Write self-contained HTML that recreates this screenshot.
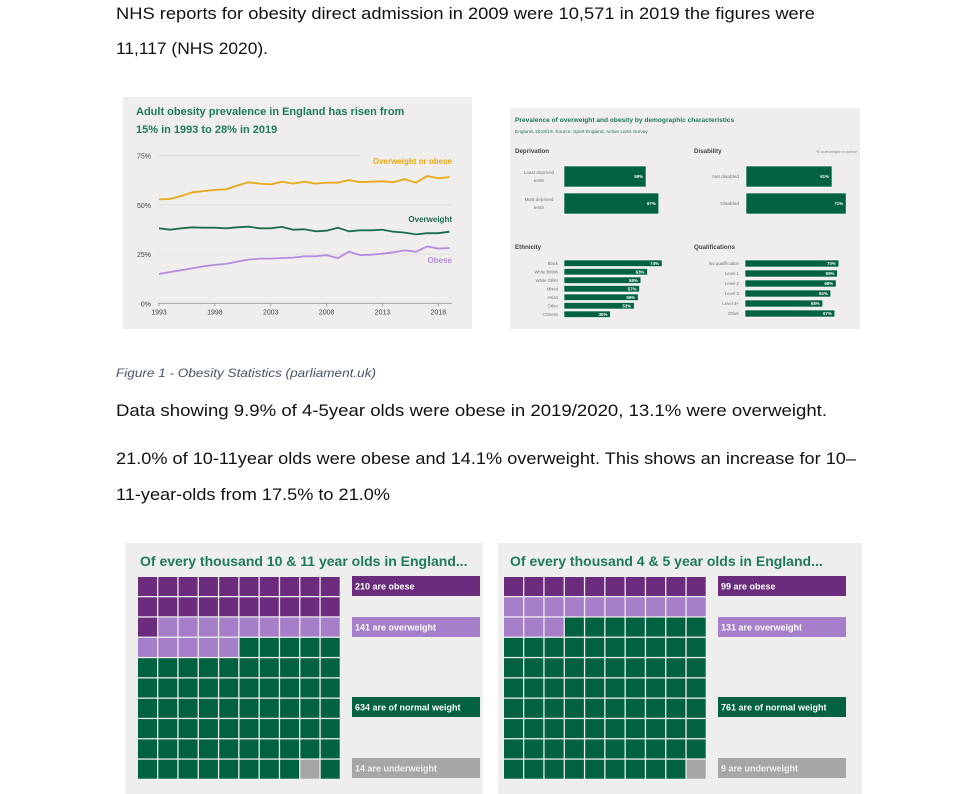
<!DOCTYPE html>
<html><head><meta charset="utf-8">
<style>
html,body{margin:0;padding:0;background:#fff;}
svg{display:block;font-family:"Liberation Sans",sans-serif;}
</style></head>
<body>
<svg id="page" width="974" height="794" viewBox="0 0 974 794" xmlns="http://www.w3.org/2000/svg">
  <g fill="#111" font-size="17">
    <text x="116" y="19" textLength="699" lengthAdjust="spacingAndGlyphs">NHS reports for obesity direct admission in 2009 were 10,571 in 2019 the figures were</text>
    <text x="116" y="54" textLength="152" lengthAdjust="spacingAndGlyphs">11,117 (NHS 2020).</text>
    <text x="116" y="377" font-size="12" font-style="italic" fill="#44546a" textLength="260" lengthAdjust="spacingAndGlyphs">Figure 1 - Obesity Statistics (parliament.uk)</text>
    <text x="116" y="416" textLength="711" lengthAdjust="spacingAndGlyphs">Data showing 9.9% of 4-5year olds were obese in 2019/2020, 13.1% were overweight.</text>
    <text x="116" y="464" textLength="740" lengthAdjust="spacingAndGlyphs">21.0% of 10-11year olds were obese and 14.1% overweight. This shows an increase for 10–</text>
    <text x="116" y="500" textLength="274" lengthAdjust="spacingAndGlyphs">11-year-olds from 17.5% to 21.0%</text>
  </g>
  <g id="line-chart"></g>
  <g id="bar-chart"></g>
  <g id="waffle1"></g>
  <g id="waffle2"></g>
</svg>
<script>
// ---- Line chart data ----
const years = [1993,1994,1995,1996,1997,1998,1999,2000,2001,2002,2003,2004,2005,2006,2007,2008,2009,2010,2011,2012,2013,2014,2015,2016,2017,2018,2019];
const overweightOrObese = [52.8,53,54.5,56.4,57,57.6,57.9,59.8,61.5,60.8,60.4,61.8,60.8,61.8,60.8,61.3,61.3,62.6,61.6,61.8,62,61.6,63.1,61.3,64.7,63.5,64.2];
const overweight = [38.1,37.4,38.1,38.6,38.4,38.4,38.1,38.6,38.9,38.1,38.1,38.8,37.4,37.6,36.6,36.9,38.4,36.6,37.1,37.1,37.4,36.4,35.9,35.0,35.6,35.6,36.4];
const obese = [14.9,15.9,16.8,17.8,18.8,19.5,20,21.2,22.2,22.7,22.7,23,23.2,23.9,23.9,24.5,22.9,26.2,24.5,24.7,25.2,25.9,26.9,26.2,28.9,27.8,28.1];
const yTicks = [0,25,50,75];
const xTickYears = [1993,1998,2003,2008,2013,2018];

// ---- Bar chart data ----
const deprivationCats = ["Least deprived|tenth","Most deprived|tenth"];
const deprivationVals = [58,67];
const disabilityCats = ["Not disabled","Disabled"];
const disabilityVals = [61,71];
const ethnicityCats = ["Black","White British","White Other","Mixed","Asian","Other","Chinese"];
const ethnicityVals = [74,63,58,57,56,53,35];
const qualCats = ["No qualification","Level 1","Level 2","Level 3","Level 4+","Other"];
const qualVals = [70,69,68,64,58,67];

// ---- Waffle data (per thousand) ----
const waffleCats = ["obese","overweight","of normal weight","underweight"];
const waffle1Vals = [210,141,634,14];
const waffle2Vals = [99,131,761,9];

const NS="http://www.w3.org/2000/svg";
function mk(parent,tag,attrs,text){const e=document.createElementNS(NS,tag);for(const k in attrs)e.setAttribute(k,attrs[k]);if(text!==undefined)e.textContent=text;parent.appendChild(e);return e;}

// ===== Line chart =====
(function(){
  const g=document.getElementById('line-chart');
  const bg=mk(g,'rect',{x:123,y:97,width:349,height:232,fill:'#efeeec'});
  
  
  const t1=mk(g,'text',{x:136,y:115,'font-size':11,'font-weight':'bold',fill:'#1e7a5a'},'Adult obesity prevalence in England has risen from');
  
  
  const t2=mk(g,'text',{x:136,y:133,'font-size':11,'font-weight':'bold',fill:'#1e7a5a'},'15% in 1993 to 28% in 2019');
  
  
  const x0=159,x1=449.5,y0=303.3,yTop=155.7;
  const xs=y=>x0+(y-years[0])*(x1-x0)/(years[years.length-1]-years[0]);
  const ys=v=>y0-v*(y0-yTop)/75;
  yTicks.forEach(v=>{
    if(v>0){const l=mk(g,'line',{x1:158,x2:v===75?360:452,y1:ys(v),y2:ys(v),stroke:'#dddcda','stroke-width':0.8});
      
      }
    const tx=mk(g,'text',{x:151,y:ys(v)+3,'font-size':7,'text-anchor':'end',fill:'#444'},v+'%');
    
    
  });
  const ax=mk(g,'line',{x1:158,x2:452,y1:y0,y2:y0,stroke:'#999','stroke-width':0.8});
  
  
  xTickYears.forEach(yr=>{
    const tk=mk(g,'line',{x1:xs(yr),x2:xs(yr),y1:y0,y2:y0+3,stroke:'#999','stroke-width':0.8});
    
    
    const tl=mk(g,'text',{x:xs(yr),y:y0+11,'font-size':7,'text-anchor':'middle',fill:'#444'},String(yr));
    
    
  });
  const series=[[overweightOrObese,'#e8a817','overweight-or-obese-line','Overweight or obese',164],[overweight,'#1d6e4c','overweight-line','Overweight',222],[obese,'#b48de0','obese-line','Obese',263]];
  series.forEach(s=>{
    const p=mk(g,'polyline',{points:s[0].map((v,i)=>xs(years[i]).toFixed(1)+','+ys(v).toFixed(1)).join(' '),fill:'none',stroke:s[1],'stroke-width':1.8,'stroke-linejoin':'round'});
    
    
    const lb=mk(g,'text',{x:452,y:s[4],'font-size':8,'font-weight':'bold','text-anchor':'end',fill:s[1]},s[3]);
    
    
  });
})();

// ===== Bar chart =====
(function(){
  const g=document.getElementById('bar-chart');
  const G='#006241';
  const bg=mk(g,'rect',{x:510,y:108,width:350,height:221,fill:'#efeeec'});
  
  
  const t=mk(g,'text',{x:515,y:122,'font-size':6.6,'font-weight':'bold',fill:'#1e7a5a'},'Prevalence of overweight and obesity by demographic characteristics');
  
  
  const st=mk(g,'text',{x:515,y:133,'font-size':4.8,fill:'#1e7a5a'},'England, 2018/19. Source: Sport England, Active Lives Survey');
  
  
  const note=mk(g,'text',{x:857,y:153,'font-size':4,'font-style':'italic','text-anchor':'end',fill:'#888'},'% overweight or obese');
  
  
  function heading(x,y,s){const h=mk(g,'text',{x:x,y:y,'font-size':6.2,'font-weight':'bold',fill:'#444'},s);
    
    }
  heading(515,153,'Deprivation');heading(694,153,'Disability');heading(515,249,'Ethnicity');heading(694,249,'Qualifications');
  function group(name,cats,vals,x0,scale,y0,pitch,h,labelX,fs){
    cats.forEach((c,i)=>{
      const y=y0+i*pitch;const w=vals[i]*scale;
      const r=mk(g,'rect',{x:x0,y:y,width:w,height:h,fill:G,stroke:'#fff','stroke-width':0.6});
      
      
      const v=mk(g,'text',{x:x0+w-3,y:y+h/2+1.6,'font-size':4.4,'font-weight':'bold','text-anchor':'end',fill:'#fff'},vals[i]+'%');
      
      
      const parts=c.split('|');
      parts.forEach((p,j)=>{
        const l=mk(g,'text',{x:labelX,y:y+h/2+1.6+(j-(parts.length-1)/2)*8,'font-size':fs,'text-anchor':parts.length>1?'middle':'end',fill:'#777'},p);
        
        
      });
    });
  }
  group('deprivation',deprivationCats,deprivationVals,564,1.414,166,27,21,539,4.6);
  group('disability',disabilityCats,disabilityVals,746,1.41,166,27,21,739,4.8);
  group('ethnicity',ethnicityCats,ethnicityVals,564,1.325,260,8.5,6.5,558,4.2);
  group('qualifications',qualCats,qualVals,745,1.34,260,10,7,739,4.4);
})();

// ===== Waffles =====
function waffle(id,vals,title,px,pw,gx,gy,lx){
  const g=document.getElementById(id);
  const colors=['#6b2c7e','#a57fc9','#006241','#a6a6a6'];
  const bg=mk(g,'rect',{x:px,y:543,width:pw,height:251,fill:'#eeeeec'});
  
  
  const t=mk(g,'text',{x:px+(id==='waffle1'?15:12),y:566,'font-size':14,'font-weight':'bold',fill:'#1e7a5a'},title);
  
  
  const cells=[];vals.forEach((v,i)=>{const n=Math.round(v/10);for(let k=0;k<n;k++)cells.push(i);});
  while(cells.length<100)cells.push(2);
  const pitch=20.3;
  for(let k=0;k<100;k++){
    const r=mk(g,'rect',{x:gx+(k%10)*pitch,y:gy+Math.floor(k/10)*pitch,width:pitch-1.3,height:pitch-1.3,fill:colors[cells[k]]});
    
    
  }
  const boxY=[576,617,697,758];
  vals.forEach((v,i)=>{
    const b=mk(g,'rect',{x:lx,y:boxY[i],width:128,height:20,fill:colors[i]});
    
    
    const tx=mk(g,'text',{x:lx+3,y:boxY[i]+13.5,'font-size':9,'font-weight':'bold',fill:i===3?'#eee':'#fff'},v+' are '+waffleCats[i]);
    
    
  });
}
waffle('waffle1',waffle1Vals,'Of every thousand 10 & 11 year olds in England...',125,358,138,577,352);
waffle('waffle2',waffle2Vals,'Of every thousand 4 & 5 year olds in England...',498,364,504,577,718);
</script>
</body></html>
